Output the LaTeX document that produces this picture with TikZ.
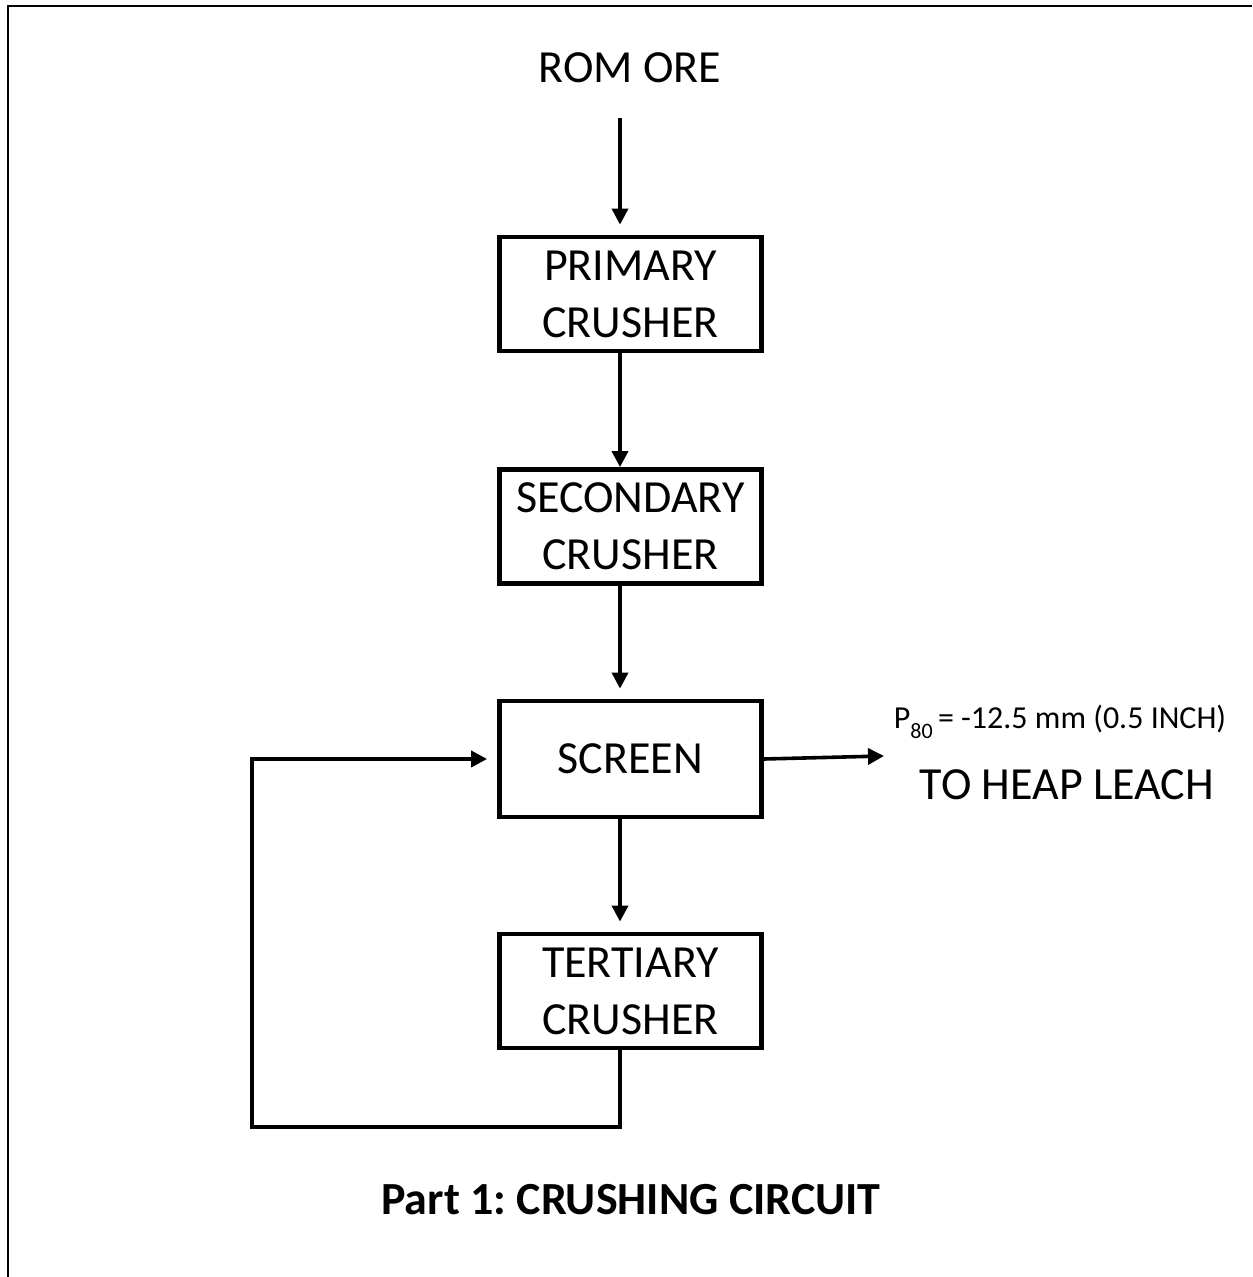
\documentclass[tikz,border=0pt]{standalone}
\usepackage{fontspec}
\setmainfont{Carlito}
\usetikzlibrary{arrows.meta,calc}
\frenchspacing
\begin{document}
\begin{tikzpicture}[x=0.5pt,y=-0.5pt,
  box/.style={draw,line width=2.4pt,minimum width=131pt,minimum height=57pt,inner sep=0pt,align=center,font=\fontsize{23}{28.5}\selectfont},
  lbl/.style={inner sep=0pt,align=center,font=\fontsize{23}{28.5}\selectfont},
  arr/.style={line width=1.8pt,-{Triangle[length=8pt,width=8pt]}},
  frame/.style={line width=1.4pt}]
\useasboundingbox (0,0) rectangle (1252,1277);
\draw[frame] (8,1277) -- (8,6) -- (1252,6);
\node[lbl] (rom) at (630,68) {ROM ORE};
\coordinate (in) at (620,118);
\node[box] (prim) at (630.5,294) {PRIMARY\\CRUSHER};
\node[box] (sec) at (630.5,526.5) {SECONDARY\\CRUSHER};
\node[box,minimum height=58pt] (scr) at (630.5,759) {SCREEN};
\node[box] (ter) at (630.5,991) {TERTIARY\\CRUSHER};
\coordinate (out) at (884,756);
\coordinate (fb) at (252,1127);
\node[inner sep=0pt,font=\fontsize{16}{19}\selectfont] (p80) at (1060,722) {P\raisebox{-0.3em}{\fontsize{11}{12}\selectfont 80}\,= -12.5 mm (0.5 INCH)};
\node[lbl] (heap) at (1067,785) {TO HEAP LEACH};
\node[lbl,font=\fontsize{23}{28.5}\selectfont\bfseries] (title) at (631,1200) {Part 1: CRUSHING CIRCUIT};
\draw[arr,shorten >=5pt] (in) -- (prim.north -| in);
\draw[arr] (prim.south -| in) -- (sec.north -| in);
\draw[arr,shorten >=5pt] (sec.south -| in) -- (scr.north -| in);
\draw[arr,shorten >=5pt] (scr.south -| in) -- (ter.north -| in);
\draw[arr] (scr.east) -- (out);
\draw[arr,shorten >=5pt] (ter.south -| in) |- (fb) |- (scr.west);
\end{tikzpicture}
\end{document}
